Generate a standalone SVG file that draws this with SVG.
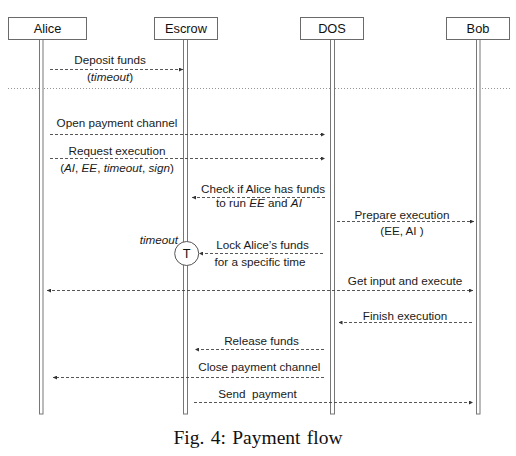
<svg xmlns="http://www.w3.org/2000/svg" width="516" height="456" viewBox="0 0 516 456">
<style>
.box{fill:#fff;stroke:#6a6a6a;stroke-width:1}
.life{fill:#fff;stroke:#777;stroke-width:1}
.hd{font-family:"Liberation Sans",Arial,sans-serif;font-size:12.8px;fill:#111;text-anchor:middle}
.lb{font-family:"Liberation Sans",Arial,sans-serif;font-size:11.7px;fill:#1a1a1a;text-anchor:middle;white-space:pre}
.msg{stroke:#444;stroke-width:0.9;stroke-dasharray:3,2;fill:none;marker-end:url(#ah)}
.cap{font-family:"Liberation Serif","Times New Roman",serif;font-size:19.5px;word-spacing:1.5px;fill:#111;text-anchor:middle}
</style>
<defs>
<marker id="ah" viewBox="0 0 6 6" refX="6" refY="3" markerWidth="4" markerHeight="4" markerUnits="userSpaceOnUse" orient="auto">
<path d="M0,0 L6,3 L0,6 z" fill="#333"/>
</marker>
<marker id="ahs" viewBox="0 0 6 6" refX="0" refY="3" markerWidth="4" markerHeight="4" markerUnits="userSpaceOnUse" orient="auto">
<path d="M6,0 L0,3 L6,6 z" fill="#333"/>
</marker>
</defs>
<rect width="516" height="456" fill="#fff"/>
<line x1="8" y1="88.5" x2="510" y2="88.5" stroke="#888" stroke-width="0.9" stroke-dasharray="1,2"/>
<g id="alice">
<rect class="life" x="39.5" y="39" width="3.5" height="375"/>
<rect class="box" x="8.5" y="17.5" width="78" height="22"/>
<text class="hd" x="47.5" y="33">Alice</text>
</g>
<g id="escrow">
<rect class="life" x="183.5" y="39" width="4" height="375"/>
<rect class="box" x="154.5" y="17.5" width="63" height="22"/>
<text class="hd" x="186" y="33">Escrow</text>
</g>
<g id="dos">
<rect class="life" x="330.5" y="39" width="4" height="375"/>
<rect class="box" x="300.5" y="17.5" width="63" height="22"/>
<text class="hd" x="332" y="33">DOS</text>
</g>
<g id="bob">
<rect class="life" x="476.5" y="39" width="3.5" height="375"/>
<rect class="box" x="446.5" y="17.5" width="63" height="22"/>
<text class="hd" x="478" y="33">Bob</text>
</g>
<g id="timer">
<circle cx="186.7" cy="253.5" r="12" fill="#fff" stroke="#555" stroke-width="1"/>
<text class="hd" x="186.7" y="258" font-size="12">T</text>
<text class="lb" x="178" y="244" style="text-anchor:end;font-style:italic">timeout</text>
</g>
<g id="connectors">
<line class="msg" x1="50" y1="69.5" x2="183" y2="69.5"/>
<line class="msg" x1="50" y1="134.5" x2="325" y2="134.5"/>
<line class="msg" x1="50" y1="158.5" x2="325" y2="158.5"/>
<line class="msg" x1="325" y1="197.5" x2="192" y2="197.5"/>
<line class="msg" x1="337" y1="221.5" x2="474" y2="221.5"/>
<line class="msg" x1="323" y1="253.5" x2="199" y2="253.5"/>
<line class="msg" x1="47" y1="290.5" x2="473" y2="290.5" marker-start="url(#ahs)"/>
<line class="msg" x1="472" y1="322.5" x2="338.5" y2="322.5"/>
<line class="msg" x1="324" y1="349.5" x2="195" y2="349.5"/>
<line class="msg" x1="324" y1="377.5" x2="53" y2="377.5"/>
<line class="msg" x1="194" y1="402.5" x2="473" y2="402.5"/>
</g>
<g id="labels">
<text class="lb" x="110" y="64">Deposit funds</text>
<text class="lb" x="110" y="81">(<tspan font-style="italic">timeout</tspan>)</text>
<text class="lb" x="117" y="126.5">Open payment channel</text>
<text class="lb" x="117" y="155">Request execution</text>
<text class="lb" x="117" y="171.5">(<tspan font-style="italic">AI</tspan>, <tspan font-style="italic">EE</tspan>, <tspan font-style="italic">timeout</tspan>, <tspan font-style="italic">sign</tspan>)</text>
<text class="lb" x="263" y="193">Check if Alice has funds</text>
<text class="lb" x="259" y="206.5">to run <tspan font-style="italic">EE</tspan> and <tspan font-style="italic">AI</tspan></text>
<text class="lb" x="402" y="218.5">Prepare execution</text>
<text class="lb" x="402" y="234.5">(EE, AI )</text>
<text class="lb" x="262.5" y="248.5">Lock Alice’s funds</text>
<text class="lb" x="260" y="265.5">for a specific time</text>
<text class="lb" x="405" y="285">Get input and execute</text>
<text class="lb" x="405" y="319.5">Finish execution</text>
<text class="lb" x="261.5" y="345">Release funds</text>
<text class="lb" x="259.3" y="371">Close payment channel</text>
<text class="lb" x="257.5" y="397.5">Send  payment</text>
</g>
<text class="cap" x="258" y="444">Fig. 4: Payment flow</text>
</svg>
